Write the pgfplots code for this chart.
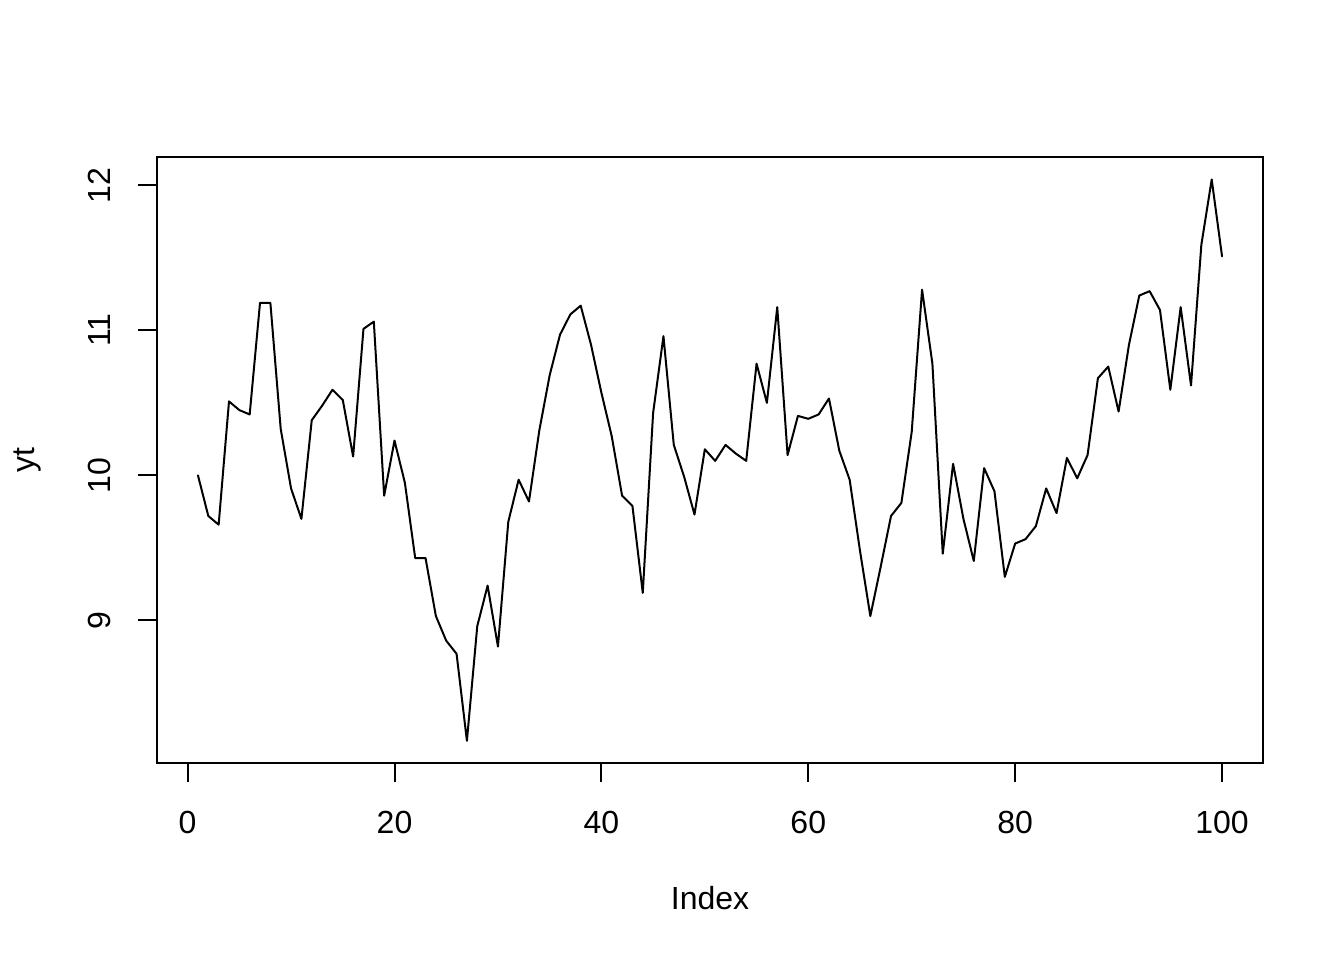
\documentclass[border=0pt]{standalone}
\usepackage{pgfplots}
\pgfplotsset{compat=1.18}
\usepackage{fontspec}
\setmainfont{Liberation Sans}
\begin{document}
\fontsize{12bp}{14bp}\selectfont
\begin{tikzpicture}
\useasboundingbox (-58.875bp,-73.875bp) rectangle (445.125bp,286.125bp);
\begin{axis}[
  at={(0,0)}, anchor=south west,
  scale only axis,
  width=414.75bp, height=227.25bp,
  xmin=-2.96, xmax=103.96,
  ymin=8.017, ymax=12.195,
  xtick={0,20,40,60,80,100},
  ytick={9,10,11,12},
  tick align=outside,
  major tick length=7.2bp,
  tick style={line width=0.75bp, black},
  axis line style={line width=0.75bp},
  xtick pos=bottom, ytick pos=left,
  /pgf/number format/assume math mode=true,
  xticklabel style={anchor=base, inner sep=0pt, font=\fontsize{12bp}{14bp}\selectfont},
  yticklabel style={rotate=90, anchor=base, inner sep=0pt, font=\fontsize{12bp}{14bp}\selectfont},
  xticklabel shift=19.4bp,
  yticklabel shift=10.4bp,
  xlabel={Index}, ylabel={yt},
  xlabel style={at={(axis description cs:0.5,0)}, anchor=base, inner sep=0pt, yshift=-55.1bp, font=\fontsize{12bp}{14bp}\selectfont},
  ylabel style={at={(axis description cs:0,0.5)}, anchor=base, inner sep=0pt, yshift=46.1bp, font=\fontsize{12bp}{14bp}\selectfont},
  clip=false,
]
\addplot[black, line width=0.75bp, line join=round, line cap=round, mark=none] coordinates {
(1,10.00) (2,9.72) (3,9.66) (4,10.51) (5,10.45) (6,10.42) (7,11.19) (8,11.19) (9,10.32) (10,9.91)
(11,9.70) (12,10.38) (13,10.48) (14,10.59) (15,10.52) (16,10.13) (17,11.01) (18,11.06) (19,9.86) (20,10.24)
(21,9.95) (22,9.43) (23,9.43) (24,9.03) (25,8.86) (26,8.77) (27,8.17) (28,8.96) (29,9.24) (30,8.82)
(31,9.68) (32,9.97) (33,9.82) (34,10.31) (35,10.69) (36,10.97) (37,11.11) (38,11.17) (39,10.90) (40,10.57)
(41,10.27) (42,9.86) (43,9.79) (44,9.19) (45,10.43) (46,10.96) (47,10.21) (48,9.99) (49,9.73) (50,10.18)
(51,10.10) (52,10.21) (53,10.15) (54,10.10) (55,10.77) (56,10.50) (57,11.16) (58,10.14) (59,10.41) (60,10.39)
(61,10.42) (62,10.53) (63,10.17) (64,9.97) (65,9.48) (66,9.03) (67,9.37) (68,9.72) (69,9.81) (70,10.30)
(71,11.28) (72,10.77) (73,9.46) (74,10.08) (75,9.70) (76,9.41) (77,10.05) (78,9.89) (79,9.30) (80,9.53)
(81,9.56) (82,9.65) (83,9.91) (84,9.74) (85,10.12) (86,9.98) (87,10.14) (88,10.67) (89,10.75) (90,10.44)
(91,10.90) (92,11.24) (93,11.27) (94,11.14) (95,10.59) (96,11.16) (97,10.62) (98,11.59) (99,12.04) (100,11.51)
};
\end{axis}
\end{tikzpicture}
\end{document}
